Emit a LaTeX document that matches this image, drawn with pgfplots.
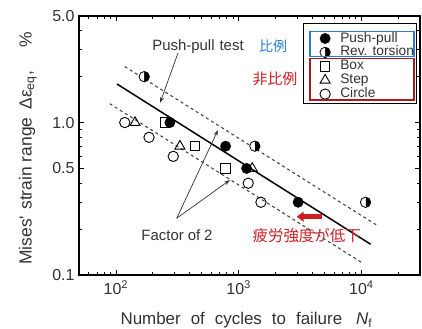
\documentclass[border=0pt]{standalone}
\usepackage{fontspec}
\setmainfont{Liberation Sans}
\newfontfamily\cjk{Noto Sans CJK JP}
\usepackage{pgfplots}
\pgfplotsset{compat=1.18}
\usetikzlibrary{arrows.meta}
\definecolor{txt}{RGB}{50,50,50}
\definecolor{jred}{RGB}{205,30,35}
\definecolor{jblue}{RGB}{40,125,205}
\definecolor{lgray}{RGB}{70,70,70}
\begin{document}
\begin{tikzpicture}
\path[use as bounding box] (-79bp,-54bp) rectangle (343bp,275bp);
\begin{axis}[
  scale only axis, width=341bp, height=259bp,
  at={(0bp,0bp)}, anchor=south west,
  xmode=log, ymode=log,
  xmin=50, xmax=30000, ymin=0.1, ymax=5,
  xtick={100,1000,10000},
  xticklabels={10\textsuperscript{2},10\textsuperscript{3},10\textsuperscript{4}},
  minor xtick={60,70,80,90,200,300,400,500,600,700,800,900,2000,3000,4000,5000,6000,7000,8000,9000,20000},
  ytick={0.1,0.5,1,5},
  yticklabels={0.1,0.5,1.0,5.0},
  minor ytick={0.2,0.3,0.4,0.6,0.7,0.8,0.9,2,3,4},
  major tick length=5bp, minor tick length=3bp,
  every tick/.style={black, line width=0.8bp},
  axis line style={black, line width=1.1bp},
  tick label style={font=\fontsize{16}{16}\selectfont, text=txt},
  xticklabel style={yshift=-2bp},
  yticklabel style={xshift=-1bp},
  xlabel={Number\hspace{10bp}of\hspace{10bp}cycles\hspace{10bp}to\hspace{10bp}failure\hspace{14bp}\textit{N}\textsubscript{f}},
  xlabel style={font=\fontsize{17}{17}\selectfont, text=txt, at={(axis description cs:0.491,-0.174)}, anchor=center},
  ylabel={Mises\textquotesingle\hspace{6bp}strain\hspace{5bp}range\hspace{8bp}Δε\textsubscript{eq},\hspace{24bp}\%},
  ylabel style={font=\fontsize{17.5}{17.5}\selectfont, text=txt, at={(axis description cs:-0.150,0.49)}, anchor=center},
  legend cell align=left,
  legend style={at={(axis description cs:0.706,0.9407)}, anchor=north west,
    draw=none, fill=none, inner sep=0pt, row sep=0pt, column sep=10bp,
    font=\fontsize{13.8}{14}\selectfont, text=txt,
    nodes={inner sep=0pt, text height=10.5bp, text depth=3.4bp}},
  legend image code/.code={\draw[mark repeat=2,mark phase=2,#1] plot coordinates {(0bp,0bp) (5bp,0bp) (10bp,0bp)};},
]
% legend images
\addlegendimage{only marks, mark=*, mark size=5.2pt, mark options={fill=black, draw=black}}
\addlegendentry{Push-pull}
\addlegendimage{only marks, mark=halfcircle*, mark size=5.2pt, mark options={fill=black, draw=black, rotate=-90, line width=0.8bp}}
\addlegendentry{Rev. torsion}
\addlegendimage{only marks, mark=square, mark size=4.7pt, mark options={draw=black, line width=0.9bp}}
\addlegendentry{Box}
\addlegendimage{only marks, mark=triangle, mark size=5.8pt, mark options={draw=black, line width=0.9bp}}
\addlegendentry{Step}
\addlegendimage{only marks, mark=o, mark size=5.2pt, mark options={draw=black, line width=0.9bp}}
\addlegendentry{Circle}
% lines
\addplot[forget plot, black, line width=1.5bp] coordinates {(102,1.79) (11900,0.159)};
\addplot[forget plot, lgray, line width=1.1bp, dash pattern=on 3bp off 3bp] coordinates {(118,2.33) (13500,0.211)};
\addplot[forget plot, lgray, line width=1.1bp, dash pattern=on 3bp off 3bp] coordinates {(89,1.33) (10000,0.121)};
% data
\addplot[forget plot, only marks, mark=square, mark size=4.7pt, mark options={draw=black, fill=white, line width=0.9bp}]
  coordinates {(250,1.0) (440,0.7) (782,0.5)};
\addplot[forget plot, only marks, mark=o, mark size=5.2pt, mark options={draw=black, fill=white, line width=0.9bp}]
  coordinates {(118,1.0) (186,0.8) (293,0.6) (1195,0.4) (1518,0.3)};
\addplot[forget plot, only marks, mark=*, mark size=5.2pt, mark options={fill=black, draw=black}]
  coordinates {(275,1.0) (782,0.7) (1160,0.5) (3050,0.3)};
\addplot[forget plot, only marks, mark=triangle, mark size=5.8pt, mark options={draw=black, line width=0.9bp}]
  coordinates {(143,1.0) (332,0.7) (1290,0.5)};
\addplot[forget plot, only marks, mark=halfcircle*, mark size=5.2pt, mark options={fill=black, draw=black, rotate=-90, line width=0.8bp}]
  coordinates {(170,2.0) (1355,0.7) (10800,0.3)};
\end{axis}
% legend frames
\draw[black, line width=1.1bp] (224.3bp,171.7bp) rectangle (337.5bp,251.7bp);
\draw[jblue, line width=1.1bp] (231bp,218.3bp) rectangle (335bp,243.3bp);
\draw[jred!85!black, line width=1.1bp] (231bp,175bp) rectangle (335bp,216.7bp);
% annotations
\node[text=txt, font=\fontsize{15}{15}\selectfont] at (119bp,228.3bp) {Push-pull\hspace{5bp}test};
\draw[txt, line width=0.7bp, -{Stealth[length=6bp,width=4bp]}] (99bp,222bp) -- (81bp,172bp);
\node[text=txt, font=\fontsize{15}{15}\selectfont] at (98bp,40bp) {Factor\hspace{4bp}of\hspace{4bp}2};
\draw[txt, line width=0.7bp, -{Stealth[length=6bp,width=4bp]}] (97.7bp,56.7bp) -- (139bp,145bp);
\draw[txt, line width=0.7bp, -{Stealth[length=6bp,width=4bp]}] (97.7bp,56.7bp) -- (151bp,95bp);
\node[text=jblue, font=\cjk\fontsize{14}{14}\selectfont] at (194bp,228.3bp) {比例};
\node[text=jred, font=\cjk\fontsize{15}{15}\selectfont] at (196bp,196bp) {非比例};
\draw[jred, line width=4.5bp, -{Triangle[length=7bp,width=10bp]}] (242.7bp,58.3bp) -- (217.7bp,58.3bp);
\node[text=jred, font=\cjk\fontsize{15.5}{15.5}\selectfont] at (227.7bp,39bp) {疲労強度が低下};
\end{tikzpicture}
\end{document}
